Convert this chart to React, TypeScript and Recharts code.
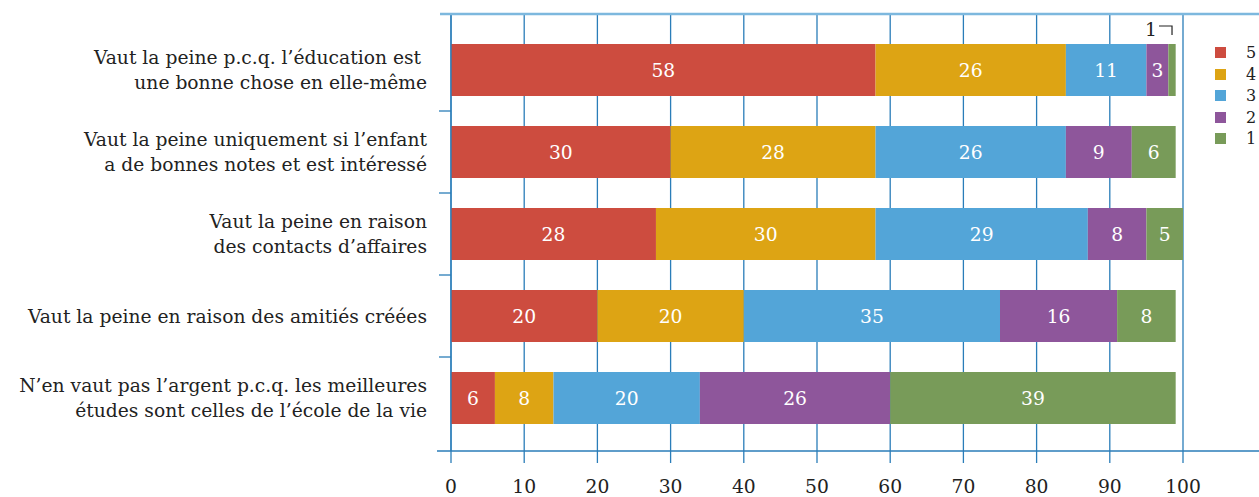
import { BarChart, Bar, XAxis, YAxis, CartesianGrid, LabelList } from "recharts";

const categories = [
  "Vaut la peine p.c.q. l’éducation est \nune bonne chose en elle-même",
  "Vaut la peine uniquement si l’enfant\na de bonnes notes et est intéressé",
  "Vaut la peine en raison\ndes contacts d’affaires",
  "Vaut la peine en raison des amitiés créées",
  "N’en vaut pas l’argent p.c.q. les meilleures\nétudes sont celles de l’école de la vie",
];

const score5 = [58, 30, 28, 20, 6];
const score4 = [26, 28, 30, 20, 8];
const score3 = [11, 26, 29, 35, 20];
const score2 = [3, 9, 8, 16, 26];
const score1 = [1, 6, 5, 8, 39];

const xTicks = [0, 10, 20, 30, 40, 50, 60, 70, 80, 90, 100];

const series = [
  { key: "s5", name: "5", values: score5, color: "#cd4c3f" },
  { key: "s4", name: "4", values: score4, color: "#dda414" },
  { key: "s3", name: "3", values: score3, color: "#53a5d8" },
  { key: "s2", name: "2", values: score2, color: "#8e569b" },
  { key: "s1", name: "1", values: score1, color: "#789b59" },
];

const rows = categories.map((cat, i) => {
  const row: Record<string, string | number> = { cat };
  series.forEach((s) => (row[s.key] = s.values[i]));
  return row;
});

const W = 1259;
const H = 497;
const FONT = "'DejaVu Serif', serif";
const FS = 18.7;
const BLUE = "#2a7db9";
const TEXT = "#222";

const margin = { top: 14, right: 76, left: 0, bottom: 0 };
const yPad = { top: 15, bottom: 12 };
const xAxisH = 46;
const band = (H - margin.top - xAxisH - yPad.top - yPad.bottom) / categories.length;

function CategoryTick(props: any) {
  const { y, payload, index } = props;
  const lines = String(payload.value).split("\n");
  const lh = 25;
  const start = y - ((lines.length - 1) * lh) / 2;
  return (
    <g>
      {lines.map((ln, i) => (
        <text
          key={i}
          x={427}
          y={start + i * lh}
          dy="0.35em"
          textAnchor="end"
          fontFamily={FONT}
          fontSize={FS}
          fill={TEXT}
          style={{ whiteSpace: "pre" }}
        >
          {ln}
        </text>
      ))}
      {index < categories.length - 1 && (
        <line x1={439} x2={451} y1={y + band / 2} y2={y + band / 2} stroke={BLUE} strokeWidth={1.3} />
      )}
    </g>
  );
}

function SegmentLabel(props: any) {
  const { x, y, width, height, value } = props;
  if (!value) return null;
  const cx = x + width / 2;
  if (width < 12) {
    return (
      <g>
        <text x={cx - 21} y={y - 8} textAnchor="middle" fontFamily={FONT} fontSize={FS} fill={TEXT}>
          {value}
        </text>
        <path d={`M${cx - 13},${y - 18} H${cx} V${y - 9}`} fill="none" stroke={TEXT} strokeWidth={1.2} />
      </g>
    );
  }
  return (
    <text
      x={cx}
      y={y + height / 2}
      dy="0.35em"
      textAnchor="middle"
      fontFamily={FONT}
      fontSize={FS}
      fill="#fff"
    >
      {value}
    </text>
  );
}

function LegendBox() {
  return (
    <div style={{ position: "absolute", left: 1215, top: 42, fontFamily: FONT, fontSize: 16, color: TEXT }}>
      {series.map((s) => (
        <div key={s.key} style={{ display: "flex", alignItems: "center", height: 21.5 }}>
          <span style={{ width: 11, height: 11, background: s.color, display: "inline-block" }} />
          <span style={{ marginLeft: 20 }}>{s.name}</span>
        </div>
      ))}
    </div>
  );
}

export default function App() {
  return (
    <div style={{ position: "absolute", left: 0, top: 0, width: W, height: H, background: "#fff" }}>
      <BarChart width={W} height={H} data={rows} layout="vertical" margin={margin} barSize={52}>
        <CartesianGrid horizontal={false} vertical stroke={BLUE} strokeWidth={1.3} />
        <XAxis
          type="number"
          domain={[0, 100]}
          ticks={xTicks}
          height={xAxisH}
          axisLine={false}
          tickSize={12}
          tickMargin={17}
          tickLine={{ stroke: BLUE, strokeWidth: 1.3 }}
          tick={{ fontFamily: FONT, fontSize: FS, fill: TEXT }}
          interval={0}
        />
        <YAxis
          type="category"
          dataKey="cat"
          width={451}
          padding={yPad}
          axisLine={{ stroke: BLUE, strokeWidth: 1.3 }}
          tickLine={false}
          tick={<CategoryTick />}
          interval={0}
        />
        {series.map((s) => (
          <Bar key={s.key} dataKey={s.key} name={s.name} stackId="a" fill={s.color} isAnimationActive={false}>
            <LabelList dataKey={s.key} content={<SegmentLabel />} />
          </Bar>
        ))}
      </BarChart>
      <svg width={W} height={H} style={{ position: "absolute", left: 0, top: 0, pointerEvents: "none" }}>
        <line x1={440} x2={W} y1={14} y2={14} stroke="#7db8de" strokeWidth={2.5} />
        <line x1={437} x2={W} y1={451} y2={451} stroke={BLUE} strokeWidth={1.3} />
      </svg>
      <LegendBox />
    </div>
  );
}
